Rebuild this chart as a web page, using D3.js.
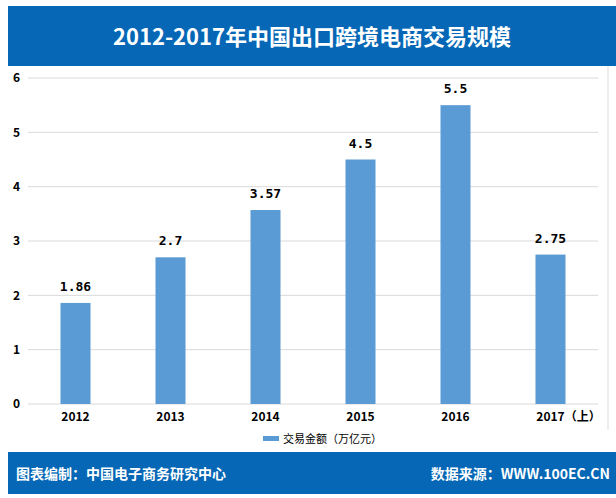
<!DOCTYPE html>
<html><head><meta charset="utf-8">
<script src="https://cdn.jsdelivr.net/npm/d3@7"></script>
<style>body{margin:0;background:#fff}</style>
</head><body>
<script>
var years = ["2012", "2013", "2014", "2015", "2016", "2017（上）"];
var amounts = [1.86, 2.7, 3.57, 4.5, 5.5, 2.75];
var yTicks = [0, 1, 2, 3, 4, 5, 6];

var svg = d3.select("body").append("svg").attr("width", 616).attr("height", 498);
var cjk = "'Noto Sans CJK SC', sans-serif";

//header and footer bars
svg.append("rect").attr("x", 8).attr("y", 6).attr("width", 608).attr("height", 60).attr("fill", "#0567b5");
svg.append("text").attr("x", 312).attr("y", 45).attr("text-anchor", "middle")
    .attr("fill", "#fff").style("font", "bold 22px " + cjk).text("2012-2017年中国出口跨境电商交易规模");
svg.append("rect").attr("x", 8).attr("y", 452).attr("width", 608).attr("height", 42).attr("fill", "#0567b5");
svg.append("text").attr("x", 16).attr("y", 479).attr("fill", "#fff")
    .style("font", "bold 14px " + cjk).text("图表编制：中国电子商务研究中心");
svg.append("text").attr("x", 610).attr("y", 479).attr("fill", "#fff").attr("text-anchor", "end")
    .style("font", "bold 14px " + cjk).text("数据来源：WWW.100EC.CN");

//frame line on the right
svg.append("line").attr("x1", 608).attr("x2", 608).attr("y1", 66).attr("y2", 430).attr("stroke", "#ddd");

var x = d3.scaleBand().domain(years).range([28, 598]);
var y = d3.scaleLinear().domain([0, 6]).range([404, 78]);

svg.selectAll(".grid").data(yTicks).enter().append("line")
    .attr("x1", 28).attr("x2", 598)
    .attr("y1", function (d) { return y(d); }).attr("y2", function (d) { return y(d); })
    .attr("stroke", "#d9d9d9");

var yAxis = svg.append("g").attr("transform", "translate(28,0)")
    .call(d3.axisLeft(y).tickValues(yTicks).tickFormat(d3.format("d")).tickSize(0).tickPadding(8));
yAxis.select(".domain").remove();
yAxis.selectAll("text").style("font", "bold 12px " + cjk).attr("fill", "#000");

var bw = 30;
svg.selectAll(".bar").data(amounts).enter().append("rect")
    .attr("x", function (d, i) { return x(years[i]) + x.bandwidth() / 2 - bw / 2; })
    .attr("y", function (d) { return y(d); })
    .attr("width", bw)
    .attr("height", function (d) { return y(0) - y(d); })
    .attr("fill", "#5b9bd5");

svg.selectAll(".val").data(amounts).enter().append("text")
    .attr("x", function (d, i) { return x(years[i]) + x.bandwidth() / 2; })
    .attr("y", function (d) { return y(d) - 12; })
    .attr("text-anchor", "middle")
    .style("font", "bold 13px 'DejaVu Sans Mono', monospace").text(function (d) { return d; });

var xAxis = svg.append("g").attr("transform", "translate(0,404)")
    .call(d3.axisBottom(x).tickSize(0).tickPadding(8));
xAxis.select(".domain").remove();
xAxis.selectAll("text").style("font", "bold 12px " + cjk).attr("fill", "#000");
xAxis.selectAll(".tick").filter(function (d, i) { return i == 5; }).select("text").attr("dx", 18);

//legend
svg.append("rect").attr("x", 263).attr("y", 436).attr("width", 16).attr("height", 5).attr("fill", "#5b9bd5");
svg.append("text").attr("x", 283).attr("y", 443).style("font", "11px " + cjk).text("交易金额（万亿元）");
</script>
</body></html>
